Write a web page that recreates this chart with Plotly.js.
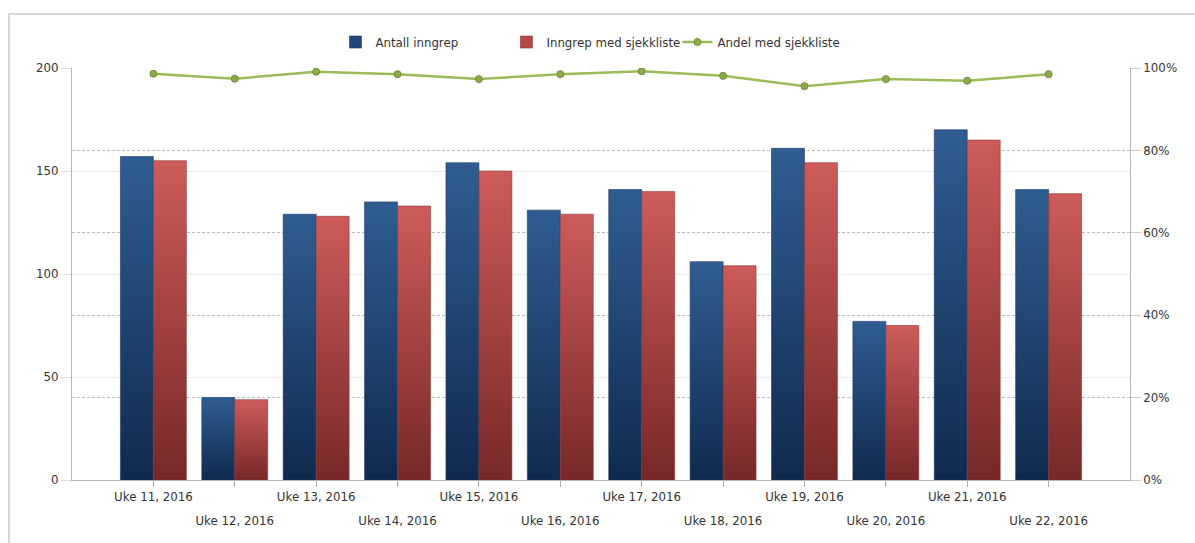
<!DOCTYPE html>
<html><head><meta charset="utf-8">
<script src="https://cdn.plot.ly/plotly-3.0.1.min.js"></script>
<style>
html,body{margin:0;padding:0;background:#fff;overflow:hidden;width:1195px;height:543px}
#chart{width:1195px;height:543px;position:absolute;left:0;top:0}
#frame{position:absolute;left:8px;top:13px;width:1400px;height:800px;border-left:2px solid #d9d9d9;border-top:2px solid #d9d9d9;pointer-events:none}
</style></head>
<body><div id="chart"></div><div id="frame"></div>
<script>
const categories = ["Uke 11, 2016","Uke 12, 2016","Uke 13, 2016","Uke 14, 2016","Uke 15, 2016","Uke 16, 2016",
                    "Uke 17, 2016","Uke 18, 2016","Uke 19, 2016","Uke 20, 2016","Uke 21, 2016","Uke 22, 2016"];
const antallInngrep = [157, 40, 129, 135, 154, 131, 141, 106, 161, 77, 170, 141];
const inngrepMedSjekkliste = [155, 39, 128, 133, 150, 129, 140, 104, 154, 75, 165, 139];
const andelMedSjekkliste = [0.986, 0.974, 0.991, 0.985, 0.973, 0.985, 0.992, 0.981, 0.956, 0.973, 0.969, 0.985];
const leftTicks = [0, 50, 100, 150, 200];
const rightTicks = [0, 0.2, 0.4, 0.6, 0.8, 1.0];

const FONT = "DejaVu Sans, Verdana, sans-serif";
const TXT = "#333333";
const FS = 11.8;

const oddText = categories.map((c, i) => i % 2 === 0 ? c : "");
const evenText = categories.map((c, i) => i % 2 === 1 ? c : "");

const data = [
  {type: "bar", name: "Antall inngrep", x: categories, y: antallInngrep,
   marker: {color: "#22477a", line: {width: 0.6, color: "#1b3660"}}, xaxis: "x", yaxis: "y"},
  {type: "bar", name: "Inngrep med sjekkliste", x: categories, y: inngrepMedSjekkliste,
   marker: {color: "#b54a4a", line: {width: 0.6, color: "#8a3333"}}, xaxis: "x", yaxis: "y"},
  {type: "scatter", mode: "lines+markers", name: "Andel med sjekkliste", x: categories, y: andelMedSjekkliste,
   line: {color: "#9bbb59", width: 2.5},
   marker: {size: 7, color: "#8dab4d", line: {color: "#6f8d38", width: 1}},
   xaxis: "x2", yaxis: "y2"}
];

const layout = {
  width: 1195, height: 543,
  margin: {l: 72, r: 65, t: 68, b: 63},
  paper_bgcolor: "#ffffff", plot_bgcolor: "#ffffff",
  font: {family: FONT, size: FS, color: TXT},
  barmode: "group", bargap: 0.19, bargroupgap: 0,
  showlegend: true,
  legend: {orientation: "h", x: 0.249, xanchor: "left", y: 1.063, yanchor: "middle",
           entrywidth: 126, font: {family: FONT, size: FS, color: TXT}, bgcolor: "rgba(0,0,0,0)"},
  xaxis: {type: "category", range: [-1, 12], tickmode: "array", tickvals: categories, ticktext: oddText,
          tickangle: 0, ticks: "outside", ticklen: 6, tickcolor: "#aaaaaa",
          showline: true, linecolor: "#b5b5b5", linewidth: 1, showgrid: false, zeroline: false,
          tickfont: {family: FONT, size: FS, color: TXT}},
  xaxis2: {type: "category", overlaying: "x", side: "bottom", range: [-1, 12], tickmode: "array",
           tickvals: categories, ticktext: evenText, tickangle: 0, ticks: "outside", ticklen: 6,
           tickcolor: "rgba(0,0,0,0)", ticklabelstandoff: 24, showline: false, showgrid: false, zeroline: false,
           tickfont: {family: FONT, size: FS, color: TXT}},
  yaxis: {range: [0, 200], tickmode: "array", tickvals: leftTicks, ticks: "outside", ticklen: 10,
          tickcolor: "#dddddd", showline: true, linecolor: "#b5b5b5", linewidth: 1,
          showgrid: true, gridcolor: "#ebebeb", gridwidth: 1, zeroline: false,
          tickfont: {family: FONT, size: FS, color: TXT}},
  yaxis2: {range: [0, 1], overlaying: "y", side: "right", tickmode: "array", tickvals: rightTicks,
           tickformat: ".0%", ticks: "outside", ticklen: 10, tickcolor: "#cccccc",
           showline: true, linecolor: "#b5b5b5", linewidth: 1,
           showgrid: true, gridcolor: "#bdbdbd", griddash: "3px,2px", gridwidth: 1, zeroline: false,
           tickfont: {family: FONT, size: FS, color: TXT}}
};

Plotly.newPlot("chart", data, layout, {staticPlot: true, displayModeBar: false}).then(gd => {
  const ns = "http://www.w3.org/2000/svg";
  const svg = gd.querySelector(".main-svg");
  let defs = svg.querySelector("defs");
  if (!defs) { defs = document.createElementNS(ns, "defs"); svg.insertBefore(defs, svg.firstChild); }
  function grad(id, top, bottom) {
    const g = document.createElementNS(ns, "linearGradient");
    g.setAttribute("id", id);
    g.setAttribute("x1", "0"); g.setAttribute("y1", "0");
    g.setAttribute("x2", "0"); g.setAttribute("y2", "1");
    [[0, top], [1, bottom]].forEach(([o, c]) => {
      const s = document.createElementNS(ns, "stop");
      s.setAttribute("offset", o); s.setAttribute("stop-color", c);
      g.appendChild(s);
    });
    defs.appendChild(g);
  }
  grad("gBlue", "#2f5d92", "#102a4e");
  grad("gRed", "#cd5c5a", "#772728");
  const traces = gd.querySelectorAll(".barlayer .trace");
  if (traces[0]) traces[0].querySelectorAll("path").forEach(p => p.style.fill = "url(#gBlue)");
  if (traces[1]) traces[1].querySelectorAll("path").forEach(p => p.style.fill = "url(#gRed)");
});
</script>
</body></html>
